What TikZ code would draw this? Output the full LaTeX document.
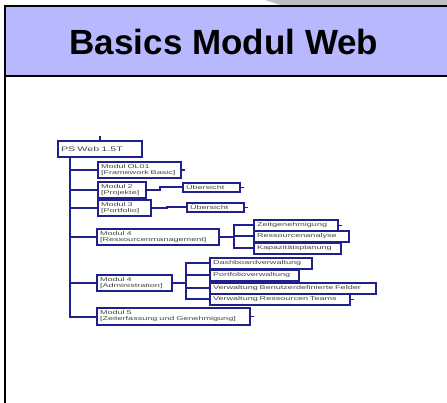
\documentclass[tikz,border=0pt]{standalone}
\usepackage{fontspec}
\usepackage{tikz}
\usetikzlibrary{arrows.meta}
\newfontfamily\titlefont{Liberation Sans}
\newfontfamily\boxfont[FakeStretch=1.65]{Liberation Sans}
\definecolor{headblue}{RGB}{184,184,255}
\definecolor{navyline}{RGB}{32,32,140}
\definecolor{boxtext}{RGB}{70,70,70}
\definecolor{shadowgray}{RGB}{190,190,190}

\tikzset{
  modbox/.style={draw=navyline, line width=2pt, fill=white, anchor=north west, inner xsep=3pt, inner ysep=0pt, align=left, font=\boxfont\fontsize{5.5}{6}\selectfont, text=boxtext, text width=#1},
  oneline/.style={minimum height=11pt},
  twoline/.style={minimum height=16pt},
  link/.style={draw=navyline, line width=2pt},
}

\begin{document}
\begin{tikzpicture}[x=1pt, y=-1pt]
    \useasboundingbox (0,0) rectangle (447,403);
    % Draw the header
    \fill[shadowgray] (265,0) -- (447,0) -- (447,6) -- (283,6) -- cycle;
    \fill[headblue] (5,6) rectangle (447,76);
    \draw[line width=1.5pt] (447,6) -- (5,6) -- (5,403);
    \draw[line width=1.5pt] (5,76) -- (447,76);
    \node[font=\titlefont\bfseries\fontsize{35}{40}\selectfont] (title) at (224,42) {Basics Modul Web};

    % Draw the tree
    \node[modbox=78pt, minimum height=16pt, font=\boxfont\fontsize{6.5}{7}\selectfont] (root) at (57,140) {PS Web 1.5T};
    \node[modbox=77pt, twoline] (m1) at (97,161) {Modul OL01\\{}[Framework Basic]};
    \node[modbox=42pt, twoline] (m2) at (97,181) {Modul 2\\{}[Projekte]};
    \node[modbox=47pt, twoline] (m3) at (97,199) {Modul 3\\{}[Portfolio]};
    \node[modbox=116pt, twoline] (m4r) at (96,228) {Modul 4\\{}[Ressourcenmanagement]};
    \node[modbox=69pt, twoline] (m4a) at (96,274) {Modul 4\\{}[Administration]};
    \node[modbox=147pt, twoline, minimum height=17pt] (m5) at (96,307) {Modul 5\\{}[Zeiterfassung und Genehmigung]};

    \node[modbox=51pt, minimum height=9pt] (u2) at (182,182) {Übersicht};
    \node[modbox=51pt, minimum height=9pt] (u3) at (186,202) {Übersicht};

    \node[modbox=78pt, oneline] (r1) at (253,219) {Zeitgenehmigung};
    \node[modbox=89pt, oneline] (r2) at (253,230) {Ressourcenanalyse};
    \node[modbox=81pt, oneline] (r3) at (253,242) {Kapazitätsplanung};

    \node[modbox=96pt, oneline] (a1) at (209,257) {Dashboardverwaltung};
    \node[modbox=83pt, oneline] (a2) at (209,269) {Portfolioverwaltung};
    \node[modbox=160pt, oneline] (a3) at (209,282) {Verwaltung Benutzerdefinierte Felder};
    \node[modbox=134pt, oneline] (a4) at (209,293) {Verwaltung Ressourcen Teams};

    % Draw the connectors
    \draw[link] (root.north) -- ++(0,-4);
    \coordinate (trunk) at (70,156);
    \draw[link] (trunk) -- (trunk |- m5.west) -- (m5.west);
    \foreach \m in {m1,m2,m3,m4r,m4a}
        \draw[link] (trunk |- \m.west) -- (\m.west);
    \draw[link] (m2.east) -- ++(13,0) |- (u2.west);
    \draw[link] (m3.east) -- ++(15,0) |- (u3.west);

    \draw[link] (m4r.east) -- ++(14,0) coordinate (rfork);
    \draw[link] (r1.west) -| (rfork) |- (r3.west);
    \draw[link] (rfork |- r2.west) -- (r2.west);

    \draw[link] (m4a.east) -- ++(13,0) coordinate (afork);
    \draw[link] (a1.west) -| (afork) |- (a4.west);
    \foreach \a in {a2,a3}
        \draw[link] (afork |- \a.west) -- (\a.west);

    \foreach \s in {m1,u2,u3,r1,a4,m5}
        \draw[link, line width=1.2pt] (\s.east) -- ++(3,0);
\end{tikzpicture}
\end{document}
